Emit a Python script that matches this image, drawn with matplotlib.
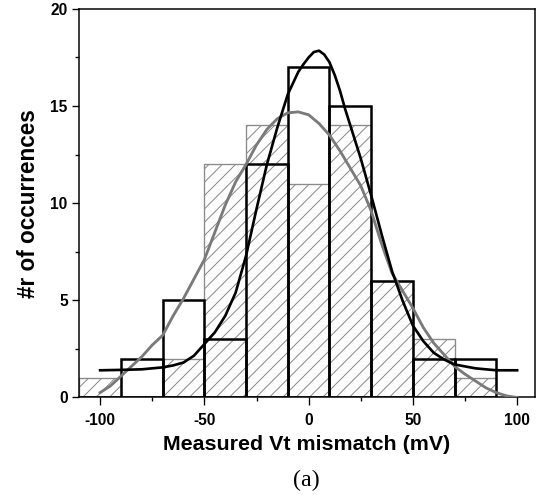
import matplotlib.pyplot as plt
import numpy as np

# bin centres (mV) and counts
bin_centers = [-100, -80, -60, -40, -20, 0, 20, 40, 60, 80]
hatched_counts = [1, 0, 2, 12, 14, 11, 14, 6, 3, 1]
open_counts = [0, 2, 5, 3, 12, 17, 15, 6, 2, 2]

# fitted curves
black_x = [-100, -90, -80, -70, -65, -60, -55, -50, -45, -40, -35, -30, -25, -20, -15, -10, -5,
           -2.5, 0, 2.5, 5, 7.5, 10, 12.5, 15, 17.5, 20, 25, 30, 35, 40, 45, 50, 55, 60, 65, 70,
           80, 90, 100]
black_y = [1.4, 1.42, 1.45, 1.55, 1.65, 1.8, 2.15, 2.75, 3.35, 4.2, 5.4, 7.3, 9.7, 12.0, 13.9,
           15.6, 16.75, 17.15, 17.5, 17.78, 17.85, 17.65, 17.25, 16.6, 15.8, 14.85, 14.0, 12.3,
           10.4, 8.4, 6.5, 5.0, 3.7, 2.9, 2.3, 1.95, 1.7, 1.5, 1.4, 1.4]
gray_x = [-100, -95, -90, -85, -80, -75, -70, -65, -60, -55, -50, -45, -40, -35, -30, -25, -20,
          -15, -10, -5, 0, 5, 10, 15, 20, 25, 30, 35, 40, 45, 50, 55, 60, 65, 70, 75, 80, 85, 90,
          95, 100]
gray_y = [0.25, 0.6, 1.1, 1.6, 2.1, 2.7, 3.2, 4.2, 5.1, 6.1, 7.1, 8.5, 9.9, 11.1, 12.0, 13.0,
          13.8, 14.35, 14.65, 14.7, 14.55, 14.1, 13.5, 12.7, 11.8, 10.9, 9.6, 7.9, 6.4, 5.5, 4.6,
          3.6, 2.8, 2.2, 1.6, 1.2, 0.85, 0.5, 0.25, 0.08, 0.0]

plt.rcParams['font.family'] = 'Liberation Sans'
plt.rcParams['hatch.linewidth'] = 0.6
plt.rcParams['axes.unicode_minus'] = False

fig = plt.figure(figsize=(543/120, 495/120), dpi=120)
ax = fig.add_axes([0.146, 0.197, 0.839, 0.785])

ax.bar(bin_centers, hatched_counts, width=20, color='white', edgecolor='#8a8a8a',
       hatch='///', linewidth=0.8, zorder=1)
ax.bar(bin_centers, open_counts, width=20, fill=False, edgecolor='black',
       linewidth=1.5, zorder=2)
ax.plot(gray_x, gray_y, color='#7a7a7a', lw=1.7, zorder=3)
ax.plot(black_x, black_y, color='black', lw=1.6, zorder=4)

ax.set_xlim(-110, 108.5)
ax.set_ylim(0, 20)
ax.set_xticks([-100, -50, 0, 50, 100])
ax.set_xticks(np.arange(-100, 101, 25), minor=True)
ax.set_yticks([0, 5, 10, 15, 20])
ax.set_yticks(np.arange(0, 20.1, 2.5), minor=True)
ax.tick_params(which='major', length=4.5, width=0.8, labelsize=9.3)
ax.tick_params(axis='x', which='major', pad=5)
ax.tick_params(axis='y', which='major', pad=2.5)
ax.tick_params(which='minor', length=2.4, width=0.8)
for lab in ax.get_xticklabels() + ax.get_yticklabels():
    lab.set_fontweight('bold')
for s in ax.spines.values():
    s.set_linewidth(0.9)

ax.set_xlabel('Measured Vt mismatch (mV)', fontsize=12.8, fontweight='bold', labelpad=4)
ax.set_ylabel('#r of occurrences', fontsize=13.5, fontweight='bold', labelpad=6)
fig.text(0.565, 0.03, '(a)', fontsize=14.4, family='Liberation Serif', ha='center', va='center')

fig.savefig('out.png', dpi=120)
